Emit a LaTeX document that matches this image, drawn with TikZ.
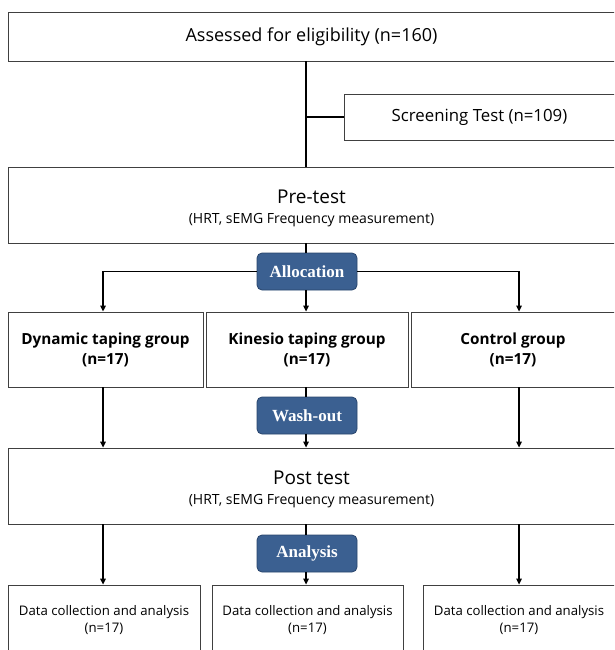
\documentclass[tikz,border=0pt]{standalone}
\usepackage{fontspec}
\setmainfont{Open Sans}
\newfontfamily\serifbold{Liberation Serif}
\usetikzlibrary{arrows.meta}
\definecolor{stepblue}{RGB}{59,96,145}
\definecolor{stepblueline}{RGB}{40,68,108}
\begin{document}
\begin{tikzpicture}[x=1pt,y=-1pt,
  box/.style={draw=black!75, line width=0.8pt, fill=white, align=center, inner sep=0pt},
  bluebox/.style={draw=stepblueline, line width=0.8pt, fill=stepblue, rounded corners=5pt, text=white,
     font=\serifbold\fontsize{17}{19}\selectfont\bfseries, minimum width=100, minimum height=37, inner sep=0pt},
  conn/.style={draw=black, line width=1.3pt},
  arr/.style={conn, -{Triangle[length=6pt,width=5.5pt]}}]
\clip (0,0) rectangle (614,650);
\fill[white] (0,0) rectangle (614,650);
\coordinate (cx) at (306,0);
\coordinate (lx) at (103,0);
\coordinate (rx) at (519,0);
% boxes
\node[box, minimum width=607, minimum height=49, font=\fontsize{18}{21}\selectfont] (assess) at (311.5,36.5) {Assessed for eligibility (n=160)};
\node[box, minimum width=271, minimum height=46, font=\fontsize{16.8}{20}\selectfont] (screen) at (479.5,117) {Screening Test (n=109)};
\node[box, minimum width=607, minimum height=76, font=\fontsize{14}{20}\selectfont] (pre) at (311.5,205) {{\fontsize{19}{20}\selectfont\rule{0pt}{20pt}Pre-test}\\{\fontsize{14}{20}\selectfont (HRT, sEMG Frequency measurement)}};
\node[bluebox] (alloc) at (307,271.5) {Allocation};
\node[box, minimum width=195, minimum height=75, font=\fontsize{15.3}{20}\selectfont\bfseries] (g1) at (105.5,349.5) {Dynamic taping group\\(n=17)};
\node[box, minimum width=202, minimum height=75, font=\fontsize{15.3}{20}\selectfont\bfseries] (g2) at (307,349.5) {Kinesio taping group\\(n=17)};
\node[box, minimum width=204, minimum height=75, font=\fontsize{15.3}{20}\selectfont\bfseries] (g3) at (513,349.5) {Control group\\(n=17)};
\node[bluebox] (wash) at (307,415.5) {Wash-out};
\node[box, minimum width=607, minimum height=76, font=\fontsize{14}{20}\selectfont] (post) at (311.5,486) {{\fontsize{19}{20}\selectfont\rule{0pt}{20pt}Post test}\\{\fontsize{14}{20}\selectfont (HRT, sEMG Frequency measurement)}};
\node[bluebox] (ana) at (307,553.5) {Analysis};
\node[box, minimum width=192, minimum height=70, font=\fontsize{13.2}{17}\selectfont] (d1) at (104,620) {Data collection and analysis\\(n=17)};
\node[box, minimum width=191, minimum height=70, font=\fontsize{13.2}{17}\selectfont] (d2) at (307.5,620) {Data collection and analysis\\(n=17)};
\node[box, minimum width=192, minimum height=70, font=\fontsize{13.2}{17}\selectfont] (d3) at (519,620) {Data collection and analysis\\(n=17)};
% connectors
\draw[conn] (assess.south -| cx) -- (pre.north -| cx);
\draw[conn] (screen.west) -- (screen.west -| cx);
\draw[conn] (pre.south -| cx) -- (alloc.north -| cx);
\draw[arr] (alloc.west) -| (g1.north -| lx);
\draw[arr] (alloc.east) -| (g3.north -| rx);
\draw[arr] (alloc.south -| cx) -- (g2.north -| cx);
\draw[arr] (g1.south -| lx) -- (post.north -| lx);
\draw[arr] (g3.south -| rx) -- (post.north -| rx);
\draw[conn] (g2.south -| cx) -- (wash.north -| cx);
\draw[arr] (wash.south -| cx) -- (post.north -| cx);
\draw[arr] (post.south -| lx) -- (d1.north -| lx);
\draw[arr] (post.south -| rx) -- (d3.north -| rx);
\draw[conn] (post.south -| cx) -- (ana.north -| cx);
\draw[arr] (ana.south -| cx) -- (d2.north -| cx);
\end{tikzpicture}
\end{document}
